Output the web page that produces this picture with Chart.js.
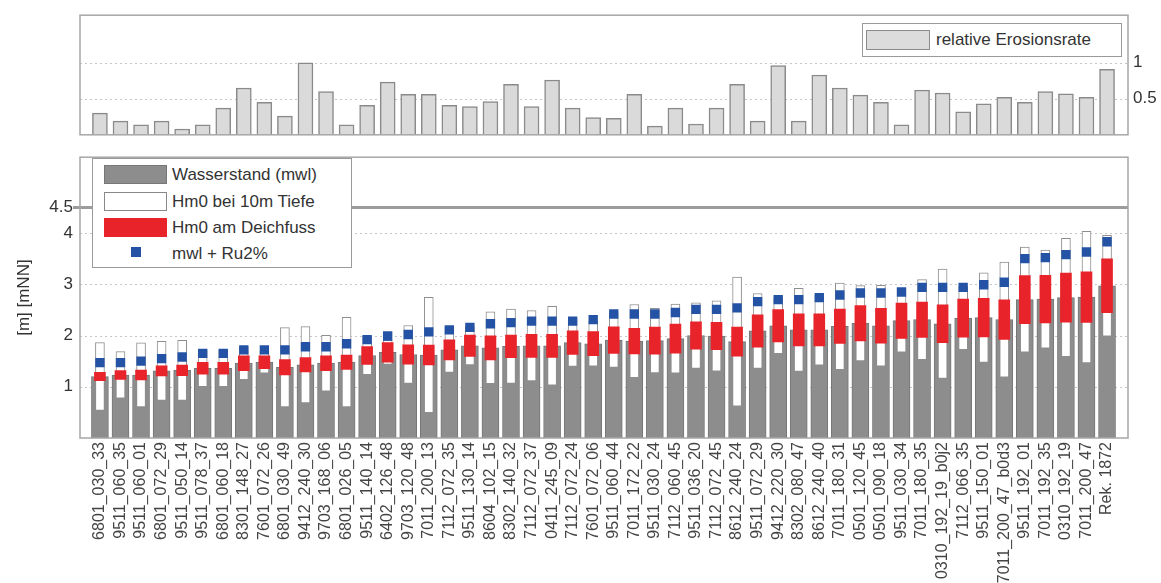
<!DOCTYPE html>
<html>
<head>
<meta charset="utf-8">
<script src="https://cdn.jsdelivr.net/npm/chart.js@4.4.1/dist/chart.umd.min.js"></script>
<style>
  body { margin: 0; background: #fff; width: 1161px; height: 583px; overflow: hidden; position: relative;
         font-family: 'Liberation Sans', Arial, sans-serif; color: #333; }
  canvas { position: absolute; left: 0; }
  #erosionChart { top: 0; }
  #levelChart { top: 140px; }
  .legend { position: absolute; box-sizing: border-box; background: #fff; border: 1.5px solid #9a9a9a; }
  .legend .sw { position: absolute; box-sizing: border-box; }
  .legend .tx { position: absolute; font-size: 17px; line-height: 20px; white-space: nowrap; }
</style>
</head>
<body>
<canvas id="erosionChart" width="1161" height="150"></canvas>
<canvas id="levelChart" width="1161" height="443"></canvas>

<div class="legend" style="left:862px;top:23px;width:260px;height:34px;">
  <div class="sw" style="left:3px;top:6px;width:64px;height:20px;background:#dcdcdc;border:1px solid #8c8c8c;"></div>
  <div class="tx" style="left:73px;top:6px;">relative Erosionsrate</div>
</div>

<div class="legend" style="left:92px;top:158px;width:260px;height:110px;">
  <div class="sw" style="left:11px;top:6px;width:63px;height:19px;background:#8d8d8d;border:1px solid #777;"></div>
  <div class="tx" style="left:79px;top:6px;">Wasserstand (mwl)</div>
  <div class="sw" style="left:11px;top:33px;width:63px;height:19px;background:#fff;border:1px solid #888;"></div>
  <div class="tx" style="left:79px;top:33px;">Hm0 bei 10m Tiefe</div>
  <div class="sw" style="left:11px;top:59px;width:63px;height:19px;background:#e8232a;"></div>
  <div class="tx" style="left:79px;top:59px;">Hm0 am Deichfuss</div>
  <div class="sw" style="left:38px;top:88px;width:10px;height:10px;background:#2453a6;"></div>
  <div class="tx" style="left:79px;top:85px;">mwl + Ru2%</div>
</div>

<script>
// Profile / station labels
const profiles = [
  '6801_030_33', '9511_060_35', '9511_060_01', '6801_072_29', '9511_050_14',
  '9511_078_37', '6801_060_18', '8301_148_27', '7601_072_26', '6801_030_49',
  '9412_240_30', '9703_168_06', '6801_026_05', '9511_140_14', '6402_126_48',
  '9703_120_48', '7011_200_13', '7112_072_35', '9511_130_14', '8604_102_15',
  '8302_140_32', '7112_072_37', '0411_245_09', '7112_072_24', '7601_072_06',
  '9511_060_44', '7011_172_22', '9511_030_24', '7112_060_45', '9511_036_20',
  '7112_072_45', '8612_240_24', '9511_072_29', '9412_220_30', '8302_080_47',
  '8612_240_40', '7011_180_31', '0501_120_45', '0501_090_18', '9511_030_34',
  '7011_180_35', '0310_192_19_b0j2', '7112_066_35', '9511_150_01', '7011_200_47_b0d3',
  '9511_192_01', '7011_192_35', '0310_192_19', '7011_200_47', 'Rek. 1872'
];

// relative Erosionsrate (top panel)
const erosion = [
  0.30, 0.19, 0.14, 0.19, 0.08, 0.14, 0.37, 0.65, 0.45, 0.26,
  1.00, 0.60, 0.14, 0.41, 0.73, 0.56, 0.56, 0.41, 0.39, 0.46,
  0.70, 0.39, 0.76, 0.37, 0.24, 0.23, 0.56, 0.12, 0.37, 0.15,
  0.37, 0.70, 0.19, 0.96, 0.19, 0.83, 0.65, 0.55, 0.45, 0.14,
  0.62, 0.58, 0.32, 0.43, 0.52, 0.45, 0.60, 0.57, 0.52, 0.91
];

// Wasserstand (mwl) [mNN]
const mwl = [
  1.20, 1.23, 1.23, 1.31, 1.32, 1.36, 1.36, 1.46, 1.48, 1.38,
  1.43, 1.46, 1.48, 1.61, 1.67, 1.63, 1.62, 1.72, 1.80, 1.76,
  1.79, 1.80, 1.80, 1.86, 1.84, 1.91, 1.89, 1.90, 1.94, 2.00,
  1.99, 1.88, 2.09, 2.19, 2.11, 2.11, 2.18, 2.24, 2.19, 2.29,
  2.31, 2.23, 2.34, 2.35, 2.31, 2.70, 2.71, 2.74, 2.75, 2.97
];

// Hm0 bei 10m Tiefe [m] (box centred on mwl)
const hm0Deep = [
  1.32, 0.91, 1.25, 1.15, 1.17, 0.72, 0.72, 0.64, 0.43, 1.55,
  1.49, 1.09, 1.75, 0.75, 0.47, 1.13, 2.25, 0.88, 0.75, 1.40,
  1.45, 1.37, 1.54, 0.93, 0.88, 1.07, 1.43, 1.26, 1.35, 1.28,
  1.37, 2.52, 1.46, 1.09, 1.62, 1.38, 1.69, 1.47, 1.58, 1.23,
  1.56, 2.13, 1.23, 1.75, 2.25, 2.05, 1.91, 2.31, 2.57, 1.97
];

// Hm0 am Deichfuss [m] (box centred on mwl)
const hm0Toe = [
  0.16, 0.17, 0.19, 0.20, 0.21, 0.23, 0.23, 0.29, 0.25, 0.30,
  0.28, 0.29, 0.28, 0.35, 0.38, 0.38, 0.39, 0.39, 0.42, 0.47,
  0.44, 0.45, 0.45, 0.46, 0.47, 0.52, 0.50, 0.53, 0.57, 0.53,
  0.53, 0.57, 0.63, 0.63, 0.63, 0.63, 0.67, 0.69, 0.68, 0.69,
  0.69, 0.74, 0.74, 0.75, 0.77, 0.94, 0.93, 0.96, 0.99, 1.05
];

// mwl + Ru2% [mNN]
const runup = [
  1.47, 1.47, 1.50, 1.55, 1.58, 1.65, 1.65, 1.72, 1.72, 1.72,
  1.78, 1.78, 1.84, 1.92, 1.99, 2.02, 2.07, 2.11, 2.16, 2.23,
  2.25, 2.28, 2.28, 2.28, 2.31, 2.42, 2.42, 2.42, 2.45, 2.51,
  2.51, 2.54, 2.66, 2.70, 2.70, 2.74, 2.79, 2.83, 2.83, 2.85,
  2.94, 2.94, 2.94, 2.99, 3.04, 3.50, 3.52, 3.58, 3.63, 3.83
];

const erosionTicks = [0.5, 1];
const levelTicks = [1, 2, 3, 4, 4.5];
const levelGrid = [1, 2, 3, 4];
const designLevel = 4.5;

Chart.defaults.font.family = "'Liberation Sans', Arial, sans-serif";
Chart.defaults.color = '#333';

const X_MIN = -0.97, X_MAX = 50.02;

const panelFrame = {
  id: 'panelFrame',
  beforeDatasetsDraw(chart, args, opts) {
    const { ctx, chartArea: a } = chart;
    const y = chart.scales.y;
    ctx.save();
    ctx.strokeStyle = '#c6c6c6';
    ctx.lineWidth = 1;
    ctx.setLineDash([2, 3]);
    (opts.dotted || []).forEach(v => {
      const p = Math.round(y.getPixelForValue(v)) + 0.5;
      ctx.beginPath(); ctx.moveTo(a.left, p); ctx.lineTo(a.right, p); ctx.stroke();
    });
    ctx.setLineDash([]);
    if (opts.thick != null) {
      const p = y.getPixelForValue(opts.thick);
      ctx.strokeStyle = '#9c9c9c';
      ctx.lineWidth = 3;
      ctx.beginPath(); ctx.moveTo(a.left - 7, p); ctx.lineTo(a.right, p); ctx.stroke();
    }
    ctx.restore();
  },
  afterDatasetsDraw(chart) {
    const { ctx, chartArea: a } = chart;
    ctx.save();
    ctx.strokeStyle = '#a6a6a6';
    ctx.lineWidth = 1.5;
    ctx.strokeRect(a.left, a.top, a.right - a.left, a.bottom - a.top);
    ctx.restore();
  }
};

// 1. top panel: relative erosion rate
new Chart(document.getElementById('erosionChart'), {
  type: 'bar',
  data: {
    datasets: [{
      data: erosion.map((v, i) => ({ x: i, y: v })),
      backgroundColor: '#dadada',
      borderColor: '#8a8a8a',
      borderWidth: 1.5,
      borderSkipped: 'bottom',
      barThickness: 15
    }]
  },
  options: {
    responsive: false,
    animation: false,
    layout: { padding: { left: 80, top: 13, right: 0, bottom: 3 } },
    plugins: { legend: { display: false }, tooltip: { enabled: false }, panelFrame: { dotted: erosionTicks } },
    scales: {
      x: { type: 'linear', min: X_MIN, max: X_MAX, offset: false, display: false },
      y: {
        position: 'right', min: 0, max: 1.66,
        afterFit: s => { s.width = 33; },
        afterBuildTicks: s => { s.ticks = erosionTicks.map(v => ({ value: v })); },
        ticks: { padding: 5, font: { size: 17 }, color: '#333', callback: v => String(v) },
        grid: { display: false, drawTicks: false },
        border: { display: false }
      }
    }
  },
  plugins: [panelFrame]
});

// 2. bottom panel: water level, wave heights, run-up
new Chart(document.getElementById('levelChart'), {
  type: 'bar',
  data: {
    datasets: [
      {
        label: 'mwl + Ru2%',
        type: 'line',
        showLine: false,
        data: runup.map((v, i) => ({ x: i, y: v })),
        pointStyle: 'rect',
        pointRadius: 6.6,
        pointBackgroundColor: '#2453a6',
        pointBorderWidth: 0,
        order: 1
      },
      {
        label: 'Hm0 am Deichfuss',
        data: mwl.map((m, i) => ({ x: i, y: [m - hm0Toe[i] / 2, m + hm0Toe[i] / 2] })),
        backgroundColor: '#e8232a',
        borderWidth: 0,
        barThickness: 11,
        grouped: false,
        order: 2
      },
      {
        label: 'Hm0 bei 10m Tiefe',
        data: mwl.map((m, i) => ({ x: i, y: [m - hm0Deep[i] / 2, m + hm0Deep[i] / 2] })),
        backgroundColor: '#ffffff',
        borderColor: '#8e8e8e',
        borderWidth: 1,
        borderSkipped: false,
        barThickness: 9,
        grouped: false,
        order: 3
      },
      {
        label: 'Wasserstand (mwl)',
        data: mwl.map((m, i) => ({ x: i, y: m })),
        backgroundColor: '#8d8d8d',
        borderColor: '#767676',
        borderWidth: 1,
        borderSkipped: 'bottom',
        barThickness: 17,
        grouped: false,
        order: 4
      }
    ]
  },
  options: {
    responsive: false,
    animation: false,
    layout: { padding: { left: 0, top: 8, right: 33, bottom: 0 } },
    plugins: {
      legend: { display: false },
      tooltip: { enabled: false },
      panelFrame: { dotted: levelGrid, thick: designLevel }
    },
    scales: {
      x: {
        type: 'linear', min: X_MIN, max: X_MAX, offset: false,
        afterFit: s => { s.height = 145; },
        afterBuildTicks: s => { s.ticks = profiles.map((_, i) => ({ value: i })); },
        ticks: {
          autoSkip: false, maxRotation: 90, minRotation: 90, padding: 4,
          font: { size: 16 }, color: '#444',
          callback: v => profiles[v]
        },
        grid: { display: false, drawTicks: false },
        border: { display: false }
      },
      y: {
        min: 0, max: 5.48,
        afterFit: s => { s.width = 80; },
        afterBuildTicks: s => { s.ticks = levelTicks.map(v => ({ value: v })); },
        ticks: { padding: 7, font: { size: 17 }, color: '#333', callback: v => String(v) },
        grid: { display: false, drawTicks: false },
        border: { display: false },
        title: { display: true, text: '[m] [mNN]', font: { size: 17 }, color: '#333', padding: { top: 14, bottom: 0 } }
      }
    }
  },
  plugins: [panelFrame]
});
</script>
</body>
</html>
